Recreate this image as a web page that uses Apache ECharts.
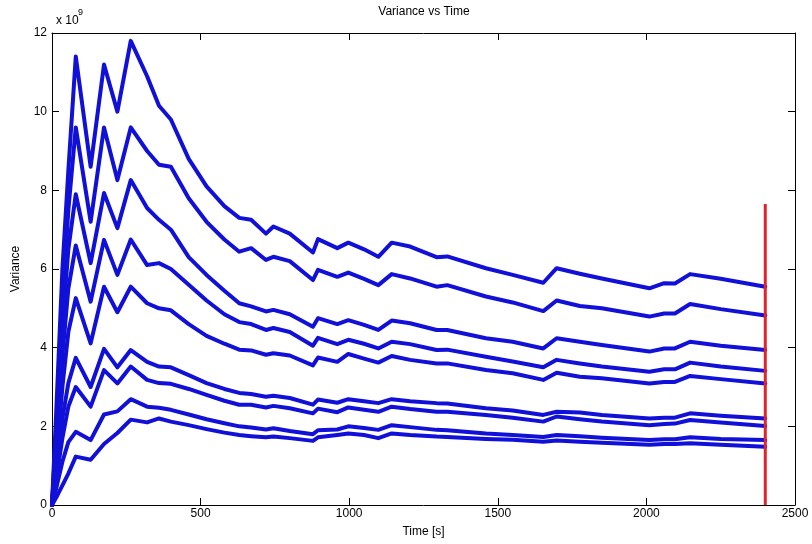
<!DOCTYPE html>
<html>
<head>
<meta charset="utf-8">
<script src="https://cdn.jsdelivr.net/npm/echarts@6/dist/echarts.min.js"></script>
<style>
html,body{margin:0;padding:0;background:#fff;}
#chart{width:812px;height:544px;}
</style>
</head>
<body>
<div id="chart"></div>
<script>
// Time samples [s]
const timeS = [0,15,35,55,80,130,175,220,265,320,360,400,460,520,580,630,670,720,745,800,878,895,960,997,1050,1098,1143,1205,1294,1330,1460,1550,1653,1698,1776,1850,2010,2060,2096,2147,2250,2400];
// Variance of each run, in units of 1e9
const run1 = [0,2.5,6.0,8.5,11.4,8.6,11.2,10.0,11.8,10.9,10.15,9.8,8.8,8.1,7.6,7.3,7.25,6.9,7.08,6.9,6.42,6.76,6.53,6.67,6.5,6.31,6.67,6.57,6.30,6.32,6.02,5.85,5.65,6.02,5.88,5.76,5.51,5.64,5.63,5.87,5.75,5.55];
const run2 = [0,2.0,5.0,7.5,9.6,7.2,9.6,8.26,9.6,9.0,8.65,8.6,7.8,7.2,6.75,6.44,6.53,6.23,6.31,6.2,5.72,5.98,5.80,5.91,5.75,5.59,5.87,5.76,5.55,5.59,5.30,5.15,4.93,5.20,5.06,5.0,4.79,4.87,4.87,5.11,4.98,4.82];
const run3 = [0,1.8,4.5,6.5,7.9,6.15,7.93,7.04,8.26,7.55,7.25,7.0,6.3,5.85,5.45,5.13,5.05,4.92,4.96,4.85,4.53,4.75,4.60,4.70,4.58,4.45,4.69,4.62,4.45,4.45,4.24,4.15,3.98,4.24,4.15,4.07,3.90,3.98,3.98,4.15,4.05,3.94];
const run4 = [0,1.5,3.8,5.5,6.6,5.17,6.74,5.85,6.75,6.1,6.15,6.0,5.6,5.2,4.85,4.65,4.6,4.45,4.5,4.4,4.05,4.25,4.09,4.20,4.1,3.98,4.15,4.09,3.94,3.95,3.77,3.65,3.50,3.69,3.60,3.52,3.39,3.45,3.45,3.62,3.52,3.41];
const run5 = [0,1.2,3.0,4.4,5.26,4.11,5.55,4.9,5.55,5.13,5.0,4.95,4.6,4.3,4.1,3.95,3.93,3.82,3.86,3.8,3.55,3.75,3.64,3.84,3.72,3.62,3.79,3.69,3.60,3.6,3.43,3.35,3.18,3.36,3.26,3.22,3.09,3.13,3.13,3.28,3.2,3.09];
const run6 = [0,0.9,2.2,3.1,3.74,3.0,3.97,3.5,3.94,3.64,3.52,3.5,3.3,3.1,2.95,2.85,2.82,2.75,2.78,2.72,2.55,2.68,2.60,2.69,2.64,2.59,2.69,2.64,2.59,2.58,2.46,2.40,2.29,2.37,2.35,2.29,2.20,2.22,2.22,2.33,2.27,2.20];
const run7 = [0,0.7,1.7,2.5,3.0,2.5,3.43,3.09,3.52,3.18,3.1,3.08,2.95,2.8,2.65,2.55,2.55,2.48,2.52,2.46,2.33,2.45,2.36,2.48,2.42,2.37,2.50,2.44,2.37,2.37,2.29,2.22,2.12,2.25,2.18,2.12,2.03,2.06,2.07,2.16,2.10,2.01];
const run8 = [0,0.45,1.1,1.6,1.86,1.65,2.3,2.38,2.69,2.5,2.47,2.42,2.3,2.18,2.08,2.0,1.97,1.92,1.95,1.88,1.8,1.9,1.92,2.0,1.96,1.91,2.03,1.98,1.91,1.9,1.82,1.78,1.73,1.78,1.75,1.71,1.65,1.67,1.67,1.72,1.68,1.65];
const run9 = [0,0.2,0.5,0.8,1.23,1.15,1.55,1.83,2.17,2.1,2.2,2.12,2.03,1.93,1.84,1.78,1.75,1.72,1.74,1.70,1.63,1.72,1.78,1.82,1.78,1.70,1.82,1.78,1.74,1.73,1.68,1.66,1.61,1.64,1.61,1.58,1.53,1.55,1.55,1.57,1.53,1.48];
// Red marker line
const markerTime = [2400, 2400];
const markerVar = [0, 7.65];
// Axes
const xMin = 0, xMax = 2500, xStep = 500;
const yMin = 0, yMax = 12, yStep = 2;

const runs = [run1, run2, run3, run4, run5, run6, run7, run8, run9];
const FONT = 'Arial, "Liberation Sans", sans-serif';
const blue = '#1010d8';

const series = runs.map((r, k) => ({
  type: 'line',
  name: 'run' + (k + 1),
  xAxisIndex: 0,
  yAxisIndex: 0,
  data: timeS.map((t, i) => [t, r[i]]),
  showSymbol: false,
  symbol: 'none',
  lineStyle: { color: blue, width: 4, join: 'round', cap: 'round' },
  clip: true,
  z: 2
}));
series.push({
  type: 'line',
  name: 'marker',
  xAxisIndex: 0,
  yAxisIndex: 0,
  data: markerTime.map((t, i) => [t, markerVar[i]]),
  showSymbol: false,
  symbol: 'none',
  lineStyle: { color: '#e3232b', width: 3 },
  z: 3
});

function axis(extra) {
  return Object.assign({
    type: 'value',
    axisLine: { show: true, onZero: false, lineStyle: { color: '#000', width: 1 } },
    axisTick: { show: true, inside: true, length: 7, lineStyle: { color: '#000' } },
    splitLine: { show: false },
    axisLabel: { color: '#000', fontSize: 12, fontFamily: FONT, formatter: v => String(v) }
  }, extra);
}

const chart = echarts.init(document.getElementById('chart'), null, { renderer: 'canvas' });
chart.setOption({
  animation: false,
  backgroundColor: '#fff',
  grid: { left: 52, right: 17, top: 33, bottom: 39 },
  xAxis: [
    axis({
      min: xMin, max: xMax, interval: xStep, position: 'bottom',
      axisLabel: { color: '#000', fontSize: 12, fontFamily: FONT, margin: 3, formatter: v => String(v) },
      name: 'Time [s]', nameLocation: 'middle', nameGap: 21,
      nameTextStyle: { color: '#000', fontSize: 12, fontFamily: FONT }
    }),
    axis({
      min: xMin, max: xMax, interval: xStep, position: 'top',
      axisLabel: { show: false }
    })
  ],
  yAxis: [
    axis({
      min: yMin, max: yMax, interval: yStep, position: 'left',
      axisLabel: { color: '#000', fontSize: 12, fontFamily: FONT, margin: 5, formatter: v => String(v) },
      name: 'Variance', nameLocation: 'middle', nameGap: 30,
      nameTextStyle: { color: '#000', fontSize: 12, fontFamily: FONT }
    }),
    axis({
      min: yMin, max: yMax, interval: yStep, position: 'right',
      axisLabel: { show: false }
    })
  ],
  graphic: [
    { type: 'text', x: 424, y: 12, style: { text: 'Variance vs Time', font: '12px ' + FONT, fill: '#000', textAlign: 'center', textVerticalAlign: 'middle' } },
    { type: 'text', x: 56, y: 21, style: { text: 'x 10', font: '12px ' + FONT, fill: '#000', textAlign: 'left', textVerticalAlign: 'middle' } },
    { type: 'text', x: 78, y: 13, style: { text: '9', font: '9px ' + FONT, fill: '#000', textAlign: 'left', textVerticalAlign: 'middle' } }
  ],
  series: series
});
</script>
</body>
</html>
